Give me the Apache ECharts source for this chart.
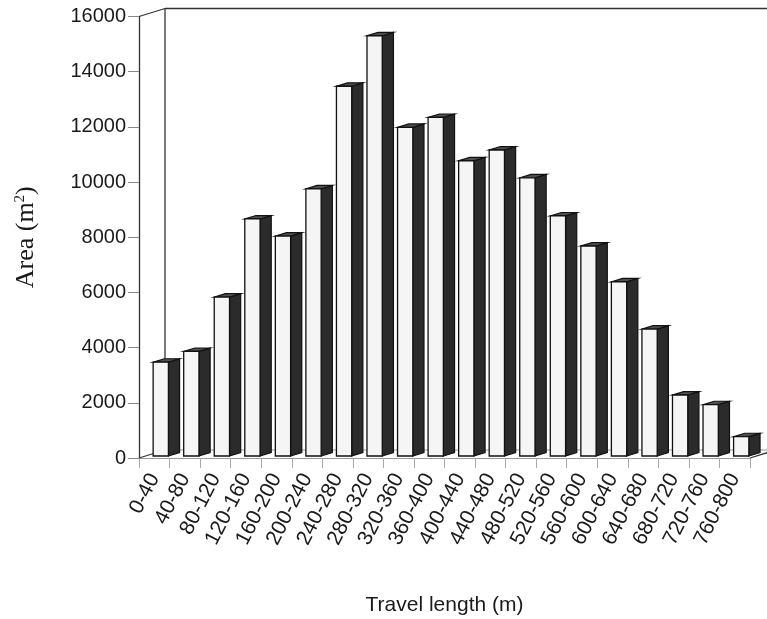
<!DOCTYPE html>
<html>
<head>
<meta charset="utf-8">
<script src="https://cdn.jsdelivr.net/npm/echarts@6/dist/echarts.min.js"></script>
<style>html,body{margin:0;padding:0;background:#fff}#c{width:767px;height:619px}</style>
</head>
<body>
<div id="c"></div>
<script>
const categories = ['0-40','40-80','80-120','120-160','160-200','200-240','240-280','280-320','320-360','360-400','400-440','440-480','480-520','520-560','560-600','600-640','640-680','680-720','720-760','760-800'];
const areaValues = [3400,3790,5760,8590,7970,9680,13400,15230,11910,12270,10700,11090,10080,8700,7610,6310,4600,2210,1860,700];
const yTicks = {min: 0, max: 16000, interval: 2000};

const DX = 26, DY = 8;      // pseudo-3D depth of the frame (px)
const D0 = 0.25, D1 = 0.68; // bar depth range (fraction of frame depth)

const chart = echarts.init(document.getElementById('c'), null, {renderer: 'canvas'});
const font = "'Liberation Sans', Arial, sans-serif";

chart.setOption({
  animation: false,
  grid: {left: 139, right: 17, top: 16.5, bottom: 161, containLabel: false, outerBoundsMode: 'none'},
  xAxis: {
    type: 'category',
    data: categories,
    boundaryGap: true,
    axisLine: {show: true, lineStyle: {color: '#999', width: 1}},
    axisTick: {show: true, interval: 0, length: 10, lineStyle: {color: '#aaa'}},
    axisLabel: {interval: 0, rotate: 63, margin: 17, fontSize: 21, color: '#1a1a1a', fontFamily: font},
    name: 'Travel length (m)',
    nameLocation: 'middle',
    nameGap: 137,
    nameTextStyle: {fontSize: 21, color: '#1a1a1a', fontFamily: font}
  },
  yAxis: {
    type: 'value',
    min: yTicks.min, max: yTicks.max, interval: yTicks.interval,
    splitLine: {show: false},
    axisLine: {show: true, lineStyle: {color: '#333', width: 1.3}},
    axisTick: {show: true, length: 11, lineStyle: {color: '#888'}},
    axisLabel: {margin: 13, fontSize: 20, color: '#1a1a1a', fontFamily: font, formatter: v => String(v)},
    name: '{a|Area (m}{s|2}{a|)}',
    nameLocation: 'middle',
    nameRotate: 90,
    nameGap: 100,
    nameTextStyle: {
      rich: {
        a: {fontFamily: "'Liberation Serif', 'Times New Roman', serif", fontSize: 26, color: '#1a1a1a'},
        s: {fontFamily: "'Liberation Serif', 'Times New Roman', serif", fontSize: 15, color: '#1a1a1a', verticalAlign: 'top', padding: [0, 0, 10, 0]}
      }
    }
  },
  series: [
    {
      type: 'custom',
      name: 'frame',
      silent: true,
      clip: false,
      z: 1,
      data: [[0, 0]],
      renderItem: function (params, api) {
        const cs = params.coordSys;
        const x = cs.x, y = cs.y, w = cs.width, h = cs.height;
        const ls = {stroke: '#333', lineWidth: 1.3, fill: null};
        const lines = [
          [[x, y], [x + DX, y - DY]],
          [[x + DX, y - DY], [x + w + DX, y - DY]],
          [[x + DX, y - DY], [x + DX, y + h - DY]],
          [[x, y + h], [x + DX, y + h - DY]],
          [[x + w, y + h], [x + w + DX, y + h - DY]]
        ];
        const children = lines.map(p => ({type: 'polyline', shape: {points: p}, style: ls}));
        children.push({type: 'polyline', shape: {points: [[x + DX, y + h - DY], [x + w + DX, y + h - DY]]}, style: {stroke: '#999', lineWidth: 1, fill: null}});
        return {type: 'group', children: children};
      }
    },
    {
      type: 'custom',
      name: 'Area',
      z: 2,
      data: areaValues.map((v, i) => [i, v]),
      encode: {x: 0, y: 1},
      renderItem: function (params, api) {
        const idx = api.value(0), v = api.value(1);
        const base = api.coord([idx, 0]);
        const top = api.coord([idx, v]);
        const band = api.size([1, 0])[0];
        const w = band * 0.5;
        const x0 = base[0] - w / 2 + D0 * DX;
        const y0 = base[1] - D0 * DY;
        const yT = top[1] - D0 * DY;
        const sx = (D1 - D0) * DX, sy = (D1 - D0) * DY;
        const stroke = '#111';
        return {
          type: 'group',
          children: [
            {type: 'polygon', shape: {points: [[x0 + w, y0], [x0 + w, yT], [x0 + w + sx, yT - sy], [x0 + w + sx, y0 - sy]]},
             style: {fill: '#2b2b2b', stroke: stroke, lineWidth: 1.2}},
            {type: 'polygon', shape: {points: [[x0, yT], [x0 + w, yT], [x0 + w + sx, yT - sy], [x0 + sx, yT - sy]]},
             style: {fill: '#505050', stroke: stroke, lineWidth: 1.2}},
            {type: 'rect', shape: {x: x0, y: yT, width: w, height: y0 - yT},
             style: {fill: '#f5f5f5', stroke: stroke, lineWidth: 1.3}}
          ]
        };
      }
    }
  ]
});
</script>
</body>
</html>
